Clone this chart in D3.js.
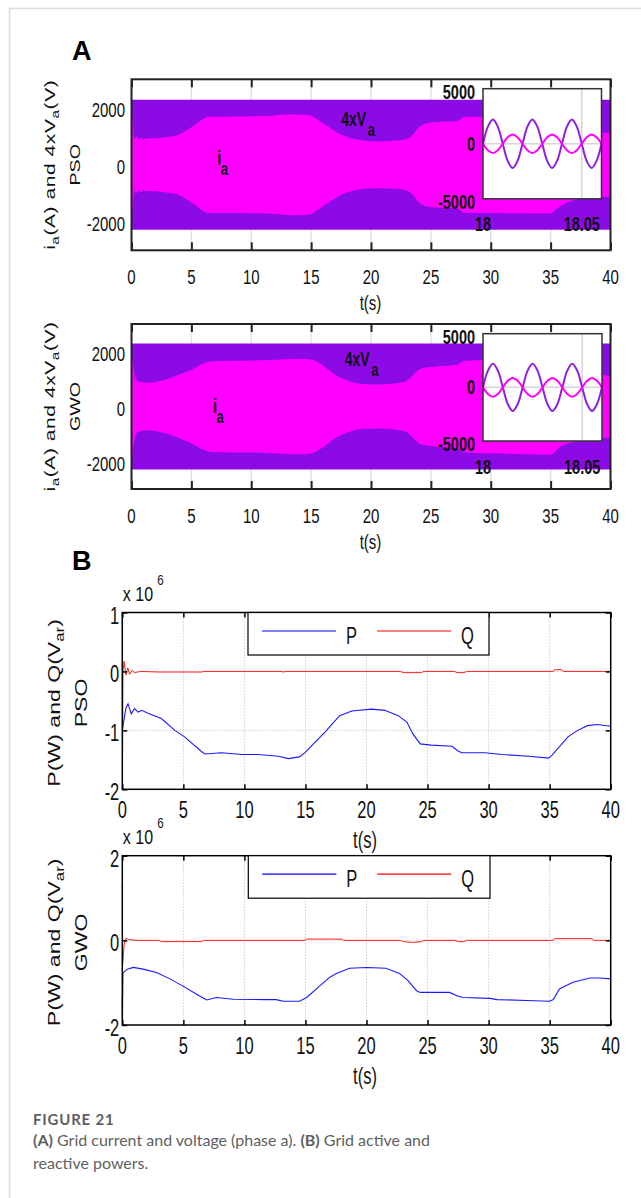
<!DOCTYPE html>
<meta charset="utf-8">
<style>
body { margin: 0; background: #fff; }
svg { display: block; font-family: "Liberation Sans", Arial, sans-serif; }
.cap text { font-family: Lato, "Open Sans", sans-serif; fill: #5f5f5f; }
</style>
<svg width="641" height="1198" font-family="Liberation Sans, Arial, sans-serif"></svg>
<script src="https://cdnjs.cloudflare.com/ajax/libs/d3/7.8.5/d3.min.js"></script>
<script>

// ---------- data ----------
var timeTicks = [0, 5, 10, 15, 20, 25, 30, 35, 40];
var ampTicks = [-2000, 0, 2000];
var insetAmpTicks = [-5000, 0, 5000];
var insetTimeTicks = [18, 18.05];
var powerTicksPSO = [-2, -1, 0, 1];
var powerTicksGWO = [-2, 0, 2];

// envelope (peak) of 4xVa, both runs
var vEnvTime = [0, 40];
var vEnvPSO = [2280, 2280];
var vEnvGWO = [2290, 2290];

// envelope (peak) of ia, PSO
var envTimePSO = [0, 0.1, 0.25, 0.4, 0.6, 0.8, 1.0, 1.3, 2, 3, 3.7, 5, 6.5, 8, 10, 12, 13.2, 14.7, 16, 17.5,
                  19, 20.5, 22.5, 23.3, 24.2, 25.3, 27.2, 27.8, 30, 35, 35.6, 36.9, 38, 40];
var iaEnvPSO = [1900, 1500, 900, 1000, 880, 960, 890, 930, 930, 980, 1020, 1320, 1690, 1690, 1700, 1730, 1770, 1750, 1450, 1060,
                870, 820, 860, 980, 1380, 1500, 1540, 1680, 1690, 1710, 1510, 1240, 1160, 1120];

// envelope (peak) of ia, GWO
var envTimeGWO = [0, 0.15, 0.3, 0.56, 1.4, 2.8, 4.7, 6.7, 10.8, 14.2, 14.9, 17.5, 19.2, 20.8, 22.8, 24.2, 25.6, 27.2, 27.8, 30,
                  35, 35.8, 36.9, 39.4, 40];
var iaEnvGWO = [1950, 1500, 1100, 910, 860, 975, 1280, 1650, 1680, 1740, 1720, 1040, 820, 800, 900, 1380, 1460, 1520, 1660, 1700,
                1750, 1450, 1290, 1150, 1120];

// zoomed window 18 s .. 18.06 s
var insetTime = [18, 18.0025, 18.005, 18.0075, 18.01, 18.0125, 18.015, 18.0175, 18.02, 18.0225, 18.025, 18.0275, 18.03,
                 18.0325, 18.035, 18.0375, 18.04, 18.0425, 18.045, 18.0475, 18.05, 18.0525, 18.055, 18.0575, 18.06];
var insetVaPSO = [0, 1560, 2210, 1560, 0, -1560, -2210, -1560, 0, 1560, 2210, 1560, 0, -1560, -2210, -1560, 0, 1560, 2210, 1560, 0, -1560, -2210, -1560, 0];
var insetIaPSO = [0, -590, -840, -590, 0, 590, 840, 590, 0, -590, -840, -590, 0, 590, 840, 590, 0, -590, -840, -590, 0, 590, 840, 590, 0];
var insetVaGWO = [0, 1555, 2200, 1555, 0, -1555, -2200, -1555, 0, 1555, 2200, 1555, 0, -1555, -2200, -1555, 0, 1555, 2200, 1555, 0, -1555, -2200, -1555, 0];
var insetIaGWO = [0, -620, -880, -620, 0, 620, 880, 620, 0, -620, -880, -620, 0, 620, 880, 620, 0, -620, -880, -620, 0, 620, 880, 620, 0];

// active / reactive power (x 1e6), PSO
var pTimePSO = [0, 0.15, 0.3, 0.47, 0.74, 1.0, 1.3, 1.6, 2.1, 3.2, 4.3, 5.1, 6.6, 6.8, 8.1, 9.8, 11.1, 12.8, 13.6, 14.5,
                15.0, 16.6, 17.8, 18.8, 20.4, 21.5, 22.6, 23.3, 23.8, 24.4, 25.3, 27, 27.5, 27.8, 29.7, 31.1, 33.3, 34.9, 35.2, 36.5,
                37.3, 38.1, 38.9, 40];
var pPSO = [-1.0, -0.8, -0.62, -0.55, -0.72, -0.63, -0.69, -0.66, -0.71, -0.80, -1.0, -1.11, -1.38, -1.40, -1.38, -1.41, -1.41, -1.44, -1.48, -1.45,
            -1.37, -1.03, -0.75, -0.67, -0.64, -0.66, -0.75, -0.86, -1.06, -1.23, -1.25, -1.27, -1.35, -1.38, -1.38, -1.41, -1.44, -1.47, -1.42, -1.11,
            -1.0, -0.92, -0.90, -0.93];
var qTimePSO = [0, 0.02, 0.05, 0.15, 0.3, 0.45, 0.6, 0.8, 1.0, 1.5, 3, 6.5, 6.7, 13, 13.2, 13.4, 22.8, 23, 24.5, 24.7,
                27.2, 27.4, 28, 28.2, 35.3, 35.4, 36, 36.1, 40];
var qPSO = [1.0, -1.45, 0, 0.17, -0.06, 0.06, -0.05, 0.02, -0.02, 0, -0.01, -0.01, 0, 0, -0.01, 0, 0, -0.02, -0.02, 0,
            0, -0.02, -0.02, 0, 0, 0.03, 0.03, 0, 0];

// active / reactive power (x 1e6), GWO
var pTimeGWO = [0, 0.01, 0.05, 0.1, 0.4, 0.9, 1.7, 2.8, 3.9, 4.9, 6.3, 6.9, 7.7, 9.1, 11.8, 12.6, 13.2, 14.5, 15.1, 16.2,
                17.0, 17.5, 18.6, 20.0, 21.6, 22.7, 23.4, 24.1, 24.4, 26.8, 27.4, 27.9, 30.1, 30.7, 33.1, 35.0, 35.3, 35.8, 36.9, 38.3,
                39.1, 40];
var pGWO = [-1.35, -1.85, -0.79, -0.76, -0.68, -0.64, -0.68, -0.76, -0.91, -1.07, -1.31, -1.41, -1.35, -1.39, -1.40, -1.40, -1.44, -1.44, -1.35, -1.07,
            -0.87, -0.79, -0.66, -0.64, -0.66, -0.78, -0.95, -1.19, -1.23, -1.23, -1.31, -1.35, -1.37, -1.40, -1.42, -1.44, -1.40, -1.15, -0.99, -0.89,
            -0.89, -0.91];
var qTimeGWO = [0, 0.03, 0.15, 0.3, 0.5, 1, 3, 3.2, 6.5, 6.7, 15, 15.1, 18, 18.1, 22.8, 23, 23.8, 24.5, 24.7, 27.3,
                27.5, 28, 28.2, 35.3, 35.4, 38.5, 38.6, 40];
var qGWO = [1.33, -0.55, -0.1, 0.05, 0.02, 0, 0, -0.03, -0.03, 0, 0, 0.03, 0.03, 0, 0, -0.03, -0.05, -0.03, 0, 0,
            -0.03, -0.03, 0, 0, 0.04, 0.04, 0, 0];

// ---------- drawing ----------
var svg = d3.select("svg");
var SY = 1.4;   // the source figure is stretched vertically
var PURPLE = "#8b0ae6", MAGENTA = "#ff00ff";

// frame of the figure box
svg.append("path").attr("d", "M9.5,1198 V8.5 H641").attr("fill", "none").attr("stroke", "#dcdcdc").attr("stroke-width", 1.5);

function stext(g, x, y, str, size, anchor, weight, sy) {
  return g.append("text")
    .attr("transform", "translate(" + x + "," + y + ") scale(1," + (sy || SY) + ")")
    .attr("text-anchor", anchor || "start")
    .style("font-size", size + "px")
    .style("font-weight", weight || "normal")
    .attr("fill", "#111")
    .text(str);
}

function rows(ts, vs) { return ts.map(function(t, i) { return {t: t, v: vs[i]}; }); }

function currentPanel(o) {
  var x = d3.scaleLinear().domain([0, 40]).range([o.left, o.right]),
      y = d3.scaleLinear().domain([-3000, 3000]).range([o.bottom, o.top]);
  var g = svg.append("g");

  g.selectAll(".grid").data(timeTicks.slice(1, -1)).join("line")
    .attr("x1", x).attr("x2", x).attr("y1", o.top).attr("y2", o.bottom)
    .attr("stroke", "#e2e2e2").attr("stroke-width", 1.5);

  var env = d3.area().curve(d3.curveMonotoneX)
    .x(function(d) { return x(d.t); })
    .y0(function(d) { return y(-d.v); })
    .y1(function(d) { return y(d.v); });
  g.append("path").datum(rows(vEnvTime, o.vEnv)).attr("d", env).attr("fill", PURPLE);
  g.append("path").datum(rows(o.envT, o.ia)).attr("d", env).attr("fill", MAGENTA);

  // ticks inside, top and bottom
  function tk(a) { a.select(".domain").remove(); a.selectAll("line").attr("stroke", "#222").attr("stroke-width", 2); }
  g.append("g").attr("transform", "translate(0," + o.bottom + ")")
    .call(d3.axisBottom(x).tickValues(timeTicks).tickSize(-8).tickFormat("")).call(tk);
  g.append("g").attr("transform", "translate(0," + o.top + ")")
    .call(d3.axisTop(x).tickValues(timeTicks).tickSize(-8).tickFormat("")).call(tk);
  g.append("rect").attr("x", o.left).attr("y", o.top).attr("width", o.right - o.left).attr("height", o.bottom - o.top)
    .attr("fill", "none").attr("stroke", "#222").attr("stroke-width", 2);

  timeTicks.forEach(function(d) { stext(g, x(d), o.bottom + 34, d, 15, "middle"); });
  ampTicks.forEach(function(d) { stext(g, o.left - 6.5, y(d) + 9.5, d, 15, "end"); });
  stext(g, (o.left + o.right) / 2 - 0.5, o.bottom + 60, "t(s)", 15, "middle");

  // curve labels
  stext(g, o.vLab[0], o.vLab[1], "4xV", 14, "start", "bold");
  stext(g, o.vLab[0] + 26.5, o.vLab[1] + 10, "a", 13, "start", "bold");
  stext(g, o.iLab[0], o.iLab[1], "i", 15, "start", "bold");
  stext(g, o.iLab[0] + 3.5, o.iLab[1] + 9.5, "a", 13, "start", "bold");

  // y title
  var cy = (o.top + o.bottom) / 2;
  var t = g.append("text").attr("transform", "translate(" + 55 + "," + cy + ") rotate(-90) scale(" + SY + ",1)")
    .attr("text-anchor", "middle").style("font-size", "15px").style("letter-spacing", "0.4px").attr("fill", "#111");
  t.append("tspan").text("i");
  t.append("tspan").attr("dy", 4).style("font-size", "11px").text("a");
  t.append("tspan").attr("dy", -4).text("(A) and 4xV");
  t.append("tspan").attr("dy", 4).style("font-size", "11px").text("a");
  t.append("tspan").attr("dy", -4).text("(V)");
  g.append("text").attr("transform", "translate(" + 80 + "," + cy + ") rotate(-90) scale(" + SY + ",1)")
    .attr("text-anchor", "middle").style("font-size", "14px").attr("fill", "#111").text(o.name);

  // zoomed inset
  var b = o.inset;
  var xi = d3.scaleLinear().domain([18, 18.06]).range([b[0], b[2]]),
      yi = d3.scaleLinear().domain([-5000, 5000]).range([b[3], b[1]]);
  g.append("rect").attr("x", b[0]).attr("y", b[1]).attr("width", b[2] - b[0]).attr("height", b[3] - b[1]).attr("fill", "#fff");
  g.append("line").attr("x1", b[0]).attr("x2", b[2]).attr("y1", yi(0)).attr("y2", yi(0)).attr("stroke", "#d6d6d6").attr("stroke-width", 1.5);
  g.append("line").attr("x1", xi(18.05)).attr("x2", xi(18.05)).attr("y1", b[1]).attr("y2", b[3]).attr("stroke", "#d6d6d6").attr("stroke-width", 1.5);
  var wave = d3.line().curve(d3.curveCatmullRom.alpha(0.5))
    .x(function(d) { return xi(d.t); }).y(function(d) { return yi(d.v); });
  g.append("path").datum(rows(insetTime, o.insetVa)).attr("d", wave).attr("fill", "none").attr("stroke", "#9020e0").attr("stroke-width", 2);
  g.append("path").datum(rows(insetTime, o.insetIa)).attr("d", wave).attr("fill", "none").attr("stroke", MAGENTA).attr("stroke-width", 2);
  g.append("rect").attr("x", b[0]).attr("y", b[1]).attr("width", b[2] - b[0]).attr("height", b[3] - b[1])
    .attr("fill", "none").attr("stroke", "#333").attr("stroke-width", 1.5);
  insetAmpTicks.forEach(function(d) { stext(g, b[0] - 8, yi(d) + (d === 0 ? -0.5 : 3) + 7.3, d, 14.5, "end", "bold"); });
  insetTimeTicks.forEach(function(d) { stext(g, xi(d), b[3] + 32.5, d, 14.5, "middle", "bold"); });
}

currentPanel({name: "PSO", left: 131.5, right: 610.5, top: 79.3, bottom: 250.3,
  vEnv: vEnvPSO, envT: envTimePSO, ia: iaEnvPSO, insetVa: insetVaPSO, insetIa: insetIaPSO,
  inset: [483, 88.7, 601.5, 198.8], vLab: [341.3, 125.5], iLab: [217.3, 165]});
currentPanel({name: "GWO", left: 131.5, right: 610.5, top: 324, bottom: 489,
  vEnv: vEnvGWO, envT: envTimeGWO, ia: iaEnvGWO, insetVa: insetVaGWO, insetIa: insetIaGWO,
  inset: [483, 333.7, 602, 441], vLab: [344.7, 366.3], iLab: [213, 413]});

function powerPanel(o) {
  var x = d3.scaleLinear().domain([0, 40]).range([o.left, o.right]),
      y = d3.scaleLinear().domain(d3.extent(o.yTicks)).range([o.bottom, o.top]);
  var g = svg.append("g");

  g.selectAll(".gx").data(timeTicks.slice(1, -1)).join("line")
    .attr("x1", x).attr("x2", x).attr("y1", o.top).attr("y2", o.bottom)
    .attr("stroke", "#b8b8b8").attr("stroke-dasharray", "1,2");
  g.selectAll(".gy").data(o.yTicks.slice(1, -1)).join("line")
    .attr("y1", y).attr("y2", y).attr("x1", o.left).attr("x2", o.right)
    .attr("stroke", "#b8b8b8").attr("stroke-dasharray", "1,2");

  var ln = d3.line().x(function(d) { return x(d.t); }).y(function(d) { return y(d.v); });
  g.append("path").datum(rows(o.pT, o.p)).attr("d", ln).attr("fill", "none").attr("stroke", "#1a1aff").attr("stroke-width", 1.1);
  g.append("path").datum(rows(o.qT, o.q)).attr("d", ln).attr("fill", "none").attr("stroke", "#ff2020").attr("stroke-width", 1);

  function tk(a) { a.select(".domain").remove(); a.selectAll("line").attr("stroke", "#000").attr("stroke-width", 1.5); }
  g.append("g").attr("transform", "translate(0," + o.bottom + ")").call(d3.axisBottom(x).tickValues(timeTicks).tickSize(-5).tickFormat("")).call(tk);
  g.append("g").attr("transform", "translate(0," + o.top + ")").call(d3.axisTop(x).tickValues(timeTicks).tickSize(-5).tickFormat("")).call(tk);
  g.append("g").attr("transform", "translate(" + o.left + ",0)").call(d3.axisLeft(y).tickValues(o.yTicks).tickSize(-5).tickFormat("")).call(tk);
  g.append("g").attr("transform", "translate(" + o.right + ",0)").call(d3.axisRight(y).tickValues(o.yTicks).tickSize(-5).tickFormat("")).call(tk);
  g.append("rect").attr("x", o.left).attr("y", o.top).attr("width", o.right - o.left).attr("height", o.bottom - o.top)
    .attr("fill", "none").attr("stroke", "#000").attr("stroke-width", 1.5);

  timeTicks.forEach(function(d) { stext(g, x(d), o.bottom + 29, d, 16.5, "middle"); });
  o.yTicks.forEach(function(d) { stext(g, o.left - 3, y(d) + 11, d, 16.5, "end"); });
  stext(g, 365, o.bottom + 59, "t(s)", 16.5, "middle");
  stext(g, o.left + 0.5, o.top - 11.5, "x 10", 16, "start", "normal", 1.3);
  stext(g, o.left + 35, o.top - 27.5, "6", 11.5, "start", "normal", 1.3);

  // legend
  var L = o.legend;
  g.append("rect").attr("x", L[0]).attr("y", o.top).attr("width", L[1] - L[0]).attr("height", 42.5)
    .attr("fill", "#fff").attr("stroke", "#000").attr("stroke-width", 1.2);
  var ly = o.top + 18.5;
  g.append("line").attr("x1", L[0] + 14).attr("x2", L[0] + 88).attr("y1", ly).attr("y2", ly).attr("stroke", "#0000ff").attr("stroke-width", 1.2);
  stext(g, L[0] + 98, ly + 12.5, "P", 16.5);
  g.append("line").attr("x1", L[0] + 129).attr("x2", L[0] + 203).attr("y1", ly).attr("y2", ly).attr("stroke", "#ff0000").attr("stroke-width", 1.2);
  stext(g, L[0] + 213, ly + 12.5, "Q", 16.5);

  // y title
  var cy = (o.top + o.bottom) / 2 + 2;
  var t = g.append("text").attr("transform", "translate(" + 60 + "," + cy + ") rotate(-90) scale(" + SY + ",1)")
    .attr("text-anchor", "middle").style("font-size", "16.5px").attr("fill", "#111");
  t.append("tspan").text("P(W) and Q(V");
  t.append("tspan").attr("dy", 4).style("font-size", "12px").text("ar");
  t.append("tspan").attr("dy", -4).text(")");
  g.append("text").attr("transform", "translate(" + 87 + "," + cy + ") rotate(-90) scale(" + SY + ",1)")
    .attr("text-anchor", "middle").style("font-size", "16.5px").attr("fill", "#111").text(o.name);
}

powerPanel({name: "PSO", left: 122.3, right: 610.7, top: 612.5, bottom: 789.3, yTicks: powerTicksPSO,
  pT: pTimePSO, p: pPSO, qT: qTimePSO, q: qPSO, legend: [248, 489]});
powerPanel({name: "GWO", left: 122.3, right: 610.7, top: 855.7, bottom: 1025, yTicks: powerTicksGWO,
  pT: pTimeGWO, p: pGWO, qT: qTimeGWO, q: qGWO, legend: [248.3, 490]});

// panel letters
svg.append("text").attr("x", 72).attr("y", 60).style("font-size", "27px").style("font-weight", "bold").text("A");
svg.append("text").attr("x", 72).attr("y", 570).style("font-size", "27px").style("font-weight", "bold").text("B");

// caption
var cap = svg.append("g").attr("class", "cap");
cap.append("text").attr("x", 33).attr("y", 1125).style("font-size", "15px").style("font-weight", 700)
  .style("letter-spacing", "0.8px").text("FIGURE 21");
var l2 = cap.append("text").attr("x", 33).attr("y", 1146).style("font-size", "16px");
l2.append("tspan").style("font-weight", 700).text("(A)");
l2.append("tspan").text(" Grid current and voltage (phase a). ");
l2.append("tspan").style("font-weight", 700).text("(B)");
l2.append("tspan").text(" Grid active and");
cap.append("text").attr("x", 33).attr("y", 1169).style("font-size", "16px").text("reactive powers.");

</script>
